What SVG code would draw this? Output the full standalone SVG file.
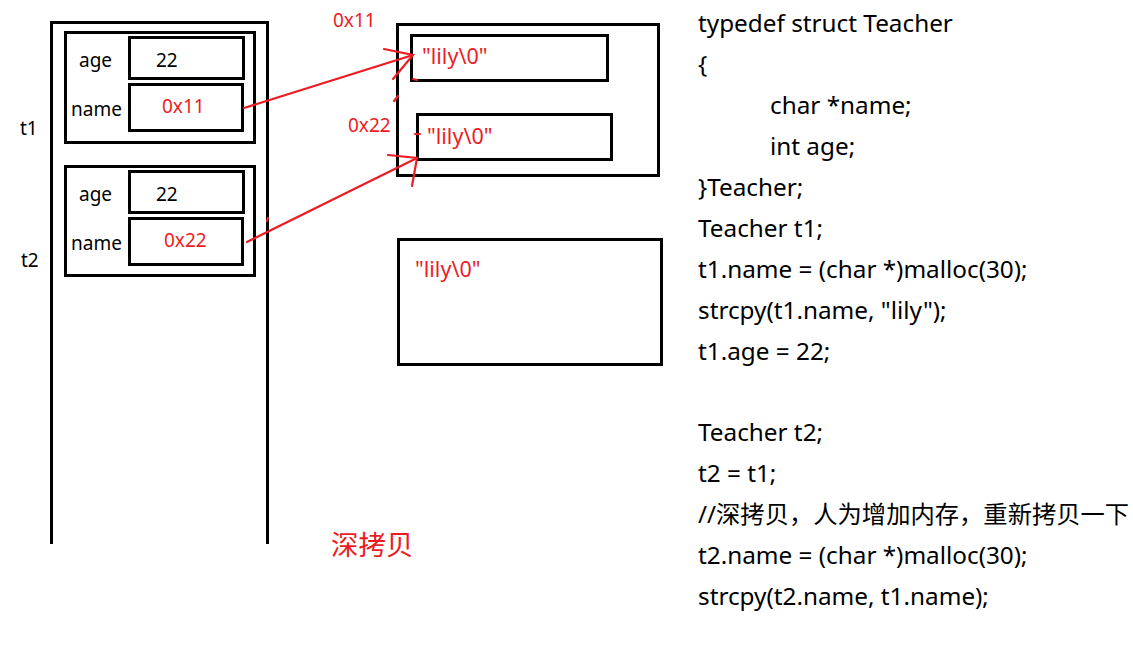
<svg xmlns="http://www.w3.org/2000/svg" width="1133" height="648" viewBox="0 0 1133 648">
<style>
.box{fill:none;stroke:#000;stroke-width:3}
.lbl{font-family:"Noto Sans","Liberation Sans",sans-serif;font-size:19px;fill:#000}
.red{font-family:"Noto Sans","Liberation Sans",sans-serif;font-size:19px;fill:#ed1c24}
.str{font-family:"Noto Sans","Liberation Sans",sans-serif;font-size:21.5px;fill:#ed1c24}
.code{font-family:"Noto Sans","Noto Sans CJK SC","Liberation Sans",sans-serif;font-size:24.3px;fill:#000}
.arr{fill:none;stroke:#ed1c24;stroke-width:2.2;stroke-linecap:round}
</style>
<rect width="1133" height="648" fill="#fff"/>
<g id="stack">
<path class="box" d="M51.5 544V22.5H267.5V544"/>
<text class="lbl" x="20" y="135">t1</text>
<text class="lbl" x="21" y="267">t2</text>
</g>
<g id="t1">
<rect class="box" x="65.5" y="32.5" width="189" height="110"/>
<rect class="box" x="129.5" y="37.5" width="114" height="41"/>
<rect class="box" x="129.5" y="84.5" width="113" height="46"/>
<text class="lbl" x="79" y="67">age</text>
<text class="lbl" x="156" y="67">22</text>
<text class="lbl" x="71" y="116">name</text>
<text class="red" x="162" y="113">0x11</text>
</g>
<g id="t2">
<rect class="box" x="65.5" y="166.5" width="189" height="109"/>
<rect class="box" x="129.5" y="171.5" width="114" height="41"/>
<rect class="box" x="129.5" y="218.5" width="113" height="46"/>
<text class="lbl" x="79" y="201">age</text>
<text class="lbl" x="156" y="201">22</text>
<text class="lbl" x="71" y="250">name</text>
<text class="red" x="164" y="247">0x22</text>
</g>
<g id="heap1">
<rect class="box" x="397.5" y="24.5" width="261" height="151"/>
<rect class="box" x="411.5" y="35.5" width="196" height="45"/>
<rect class="box" x="417.5" y="114.5" width="194" height="45"/>
<text class="str" x="422" y="64">"lily\0"</text>
<text class="str" x="427" y="144">"lily\0"</text>
</g>
<g id="heap2">
<rect class="box" x="398.5" y="239.5" width="263" height="125"/>
<text class="str" x="415" y="277">"lily\0"</text>
</g>
<g id="addr-labels">
<text class="red" x="333" y="27">0x11</text>
<text class="red" x="348" y="132">0x22</text>
<text class="red" x="331" y="555" style="font-family:'Noto Sans CJK SC',sans-serif;font-size:27.5px">深拷贝</text>
</g>
<g id="connectors">
<path class="arr" d="M244 108L413 55"/>
<path class="arr" d="M384 49L413 55L393 79"/>
<path class="arr" d="M394 101L398 96"/>
<path class="arr" d="M413 79L417 80"/>
<path class="arr" d="M247 242L417 158"/>
<path class="arr" d="M388 155L417 158L412 186"/>
<path class="arr" d="M415 134L420 134"/>
<path class="arr" d="M267 221L268 218"/>
</g>
<g id="code">
<text class="code" x="698" y="32">typedef struct Teacher</text>
<text class="code" x="698" y="73">{</text>
<text class="code" x="770" y="114">char *name;</text>
<text class="code" x="770" y="155">int age;</text>
<text class="code" x="698" y="196">}Teacher;</text>
<text class="code" x="698" y="237">Teacher t1;</text>
<text class="code" x="698" y="278">t1.name = (char *)malloc(30);</text>
<text class="code" x="698" y="319">strcpy(t1.name, "lily");</text>
<text class="code" x="698" y="360">t1.age = 22;</text>
<text class="code" x="698" y="441">Teacher t2;</text>
<text class="code" x="698" y="482">t2 = t1;</text>
<text class="code" x="698" y="523">//深拷贝，人为增加内存，重新拷贝一下</text>
<text class="code" x="698" y="564">t2.name = (char *)malloc(30);</text>
<text class="code" x="698" y="605">strcpy(t2.name, t1.name);</text>
</g>
</svg>
